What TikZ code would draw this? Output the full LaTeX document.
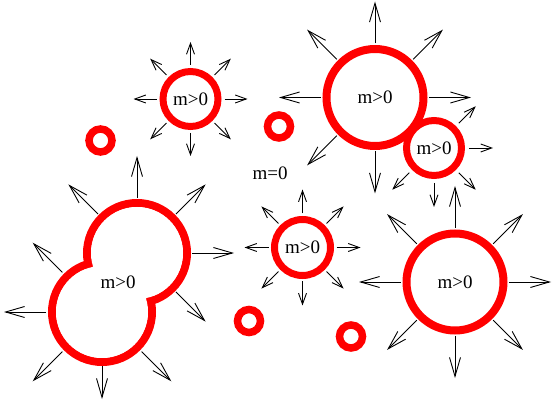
\documentclass[tikz,border=0pt]{standalone}
\usepackage{fontspec}
\setmainfont{Liberation Serif}
\usetikzlibrary{arrows.meta,calc}
\begin{document}
\begin{tikzpicture}[x=1pt,y=-1pt,
  lbl/.style={font=\fontsize{19}{19}\selectfont},
  blob/.style={circle,draw=red,inner sep=0pt,lbl},
  ring/.style={circle,draw=red,line width=7.5pt,minimum size=23pt,inner sep=0pt},
  bigarr/.style={line width=0.9pt,-{Straight Barb[length=19pt,width=11pt]}},
  smallarr/.style={line width=0.9pt,-{Straight Barb[length=11pt,width=8pt]}}]
\useasboundingbox (0,0) rectangle (554,411);

% small top-left blob
\node[blob,line width=7pt,minimum size=55pt] (c1) at (190.5,99) {m>0};
\foreach \a in {0,45,...,315}
  \draw[smallarr] ($(c1.center)+(\a:34)$) -- ($(c1.center)+(\a:57)$);

% large top blob
\node[blob,line width=8pt,minimum size=97pt] (c2) at (375,97.5) {m>0};
\foreach \a in {0,90,135,180,225,270,315}
  \draw[bigarr] ($(c2.center)+(\a:54)$) -- ($(c2.center)+(\a:96)$);

% small blob next to it
\node[blob,line width=7pt,minimum size=55pt] (c3) at (434,148) {m>0};
\foreach \a in {0,45,90,135,315}
  \draw[smallarr] ($(c3.center)+(\a:35)$) -- ($(c3.center)+(\a:59)$);

% middle blob
\node[blob,line width=7pt,minimum size=56pt] (c5) at (302.5,247.5) {m>0};
\foreach \a in {0,45,...,315}
  \draw[smallarr] ($(c5.center)+(\a:34)$) -- ($(c5.center)+(\a:58)$);

% bottom right blob
\node[blob,line width=8pt,minimum size=97pt] (c6) at (455,282) {m>0};
\foreach \a in {0,45,...,315}
  \draw[bigarr] ($(c6.center)+(\a:54)$) -- ($(c6.center)+(\a:96)$);

% merging blob (peanut)
\coordinate (p1) at (137,253);
\coordinate (p2) at (102,312);
\draw[red,line width=8pt] (p1) circle[radius=50pt] (p2) circle[radius=50pt];
\fill[white] (p1) circle[radius=46pt] (p2) circle[radius=46pt];
\node[lbl] (pl) at (118,282) {m>0};
\foreach \a in {0,45,225,270,315}
  \draw[bigarr] ($(p1)+(\a:55)$) -- ($(p1)+(\a:97)$);
\foreach \a in {45,135,180,225}
  \draw[bigarr] ($(p2)+(\a:56)$) -- ($(p2)+(\a:98)$);
\draw[bigarr] ($(p2)+(90:54)$) -- ($(p2)+(90:87)$);

% tiny rings (m=0)
\node[ring] (r1) at (100.5,140.5) {};
\node[ring] (r2) at (279,126.5) {};
\node[ring] (r3) at (249,321) {};
\node[ring] (r4) at (351,336.5) {};
\node[lbl] (m0) at (270,173) {m=0};
\end{tikzpicture}
\end{document}
